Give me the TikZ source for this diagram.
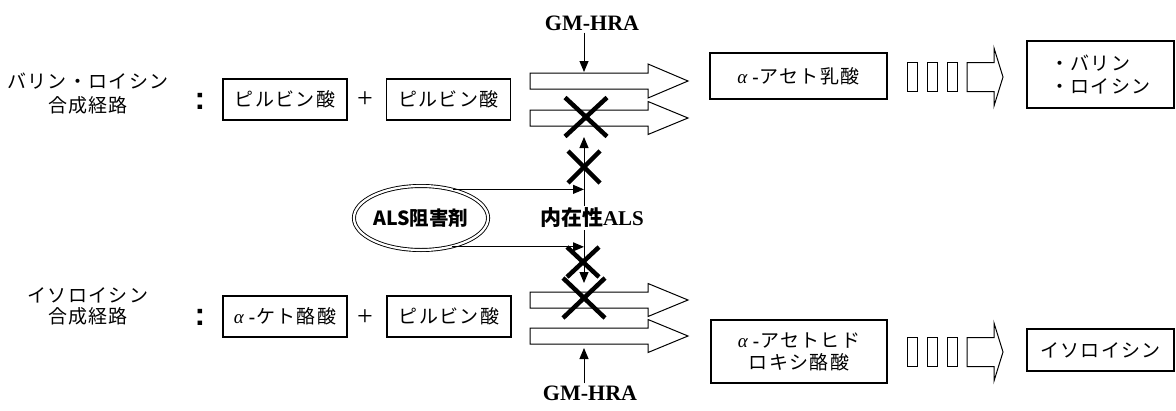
\documentclass[tikz,border=0pt]{standalone}
\usepackage{fontspec}
\setmainfont{Liberation Serif}
\newfontfamily\jp{Noto Sans CJK JP}[LetterSpace=7]
\newfontfamily\jpn{Noto Sans CJK JP}
\newfontfamily\arialb{Liberation Sans}
\usetikzlibrary{arrows.meta,shapes.geometric,calc}
\newcommand\blkarrow[6]{%
  \draw[blk] (#1,#4-#5) -- (#2,#4-#5) -- (#2,#4-#6) -- (#3,#4) -- (#2,#4+#6) -- (#2,#4+#5) -- (#1,#4+#5) -- cycle;}
\newcommand\xmk[4]{%
  \draw[xm] (#1-#3,#2-#4) -- (#1+#3,#2+#4) (#1-#3,#2+#4) -- (#1+#3,#2-#4);}
\newcommand\dotrects[1]{%
  \draw[blk] (907,#1-14.5) rectangle (917.5,#1+14.5);
  \draw[blk] (927,#1-14.5) rectangle (937.5,#1+14.5);
  \draw[blk] (947,#1-14.5) rectangle (957.5,#1+14.5);}
\newcommand\alphadash{{\rmfamily\itshape α}\hspace{5pt}{\rmfamily\bfseries -}\hspace{1pt}}
\tikzset{
  box/.style={draw, line width=1.1pt, inner sep=0pt, align=center, font=\jp\fontsize{19}{23}\selectfont},
  lbl/.style={align=center, inner sep=0pt, font=\jp\fontsize{19}{24}\selectfont},
  arr/.style={line width=1pt, -{Triangle[length=11pt,width=9pt]}},
  xm/.style={line width=4.5pt},
  blk/.style={draw, line width=1pt, fill=white, line join=miter},
  colon/.style={inner sep=0pt, font=\arialb\bfseries\fontsize{32}{32}\selectfont},
  plus/.style={inner sep=0pt, font=\fontsize{28}{28}\selectfont},
  gm/.style={inner sep=2pt, font=\bfseries\fontsize{22}{22}\selectfont},
}
\begin{document}
\begin{tikzpicture}[x=1pt,y=-1pt]
\useasboundingbox (0,0) rectangle (1176,410);
\coordinate (vx) at (584,0);

% left labels
\node[lbl] (l1) at (88,94) {バリン・ロイシン\\合成経路};
\node[lbl, font=\jp\fontsize{19}{21}\selectfont] (l2) at (88,306) {イソロイシン\\合成経路};
\node[colon] (c1) at (200,101) {:};
\node[colon] (c2) at (200,317) {:};

% substrate boxes
\node[box, minimum width=124pt, minimum height=41pt] (p1) at (285,99.5) {ピルビン酸};
\node[plus] (pl1) at (365,100) {+};
\node[box, minimum width=124pt, minimum height=41pt] (p2) at (448.5,99.5) {ピルビン酸};
\node[box, minimum width=124pt, minimum height=41pt] (k1) at (285,316.5) {\alphadash ケト酪酸};
\node[plus] (pl2) at (365,318) {+};
\node[box, minimum width=124pt, minimum height=41pt] (p3) at (449,316.5) {ピルビン酸};

% block arrows
\blkarrow{530}{648}{688}{81}{8}{17}
\blkarrow{530}{648}{688}{118}{8}{16.5}
\blkarrow{530}{648}{688}{300}{8}{16.5}
\blkarrow{530}{648}{688}{336}{8}{16.5}

% products
\node[box, minimum width=177pt, minimum height=46pt] (al) at (798.5,76) {\alphadash アセト乳酸};
\dotrects{77}
\blkarrow{967}{994}{1003}{77}{14.5}{29}
\node[box, align=left, minimum width=147pt, minimum height=67pt] (vl) at (1100.5,74.5) {・バリン\\・ロイシン};

\node[box, minimum width=176pt, minimum height=63pt, font=\jp\fontsize{19}{22}\selectfont] (ah) at (799,351.5) {\alphadash アセトヒド\\ロキシ酪酸};
\dotrects{352}
\blkarrow{967}{994}{1003}{352}{14.5}{29}
\node[box, minimum width=147pt, minimum height=42pt] (il) at (1100.5,350) {イソロイシン};

% inhibitor and enzyme
\node[ellipse, draw, double, double distance=2.2pt, line width=0.9pt, minimum width=128pt, minimum height=64pt, inner sep=0pt, font=\jpn\bfseries\fontsize{19.5}{19.5}\selectfont] (als) at (421,218) {ALS阻害剤};
\node[gm, font=\bfseries\fontsize{21}{21}\selectfont] (nz) at (592,218) {{\jpn 内在性}ALS};
\node[gm] (g1) at (592,23) {GM-HRA};
\node[gm] (g2) at (590,393) {GM-HRA};

\coordinate (g1tip) at (584,72);
\coordinate (uptip) at (584,137);
\coordinate (dntip) at (584,283);
\coordinate (g2tip) at (584,348);

\draw[arr] (g1.south -| vx) -- (g1tip);
\draw[arr] (nz.north -| vx) -- (uptip);
\draw[arr] (nz.south -| vx) -- (dntip);
\draw[arr] (g2.north -| vx) -- (g2tip);
\draw[arr] (als.42) -- (als.42 -| vx);
\draw[arr] (als.-43) -- (als.-43 -| vx);

% blocks
\xmk{586}{117}{21}{19.5}
\xmk{584}{167}{16}{16}
\xmk{583}{262}{16}{15}
\xmk{584}{298}{21}{20}
\end{tikzpicture}
\end{document}
